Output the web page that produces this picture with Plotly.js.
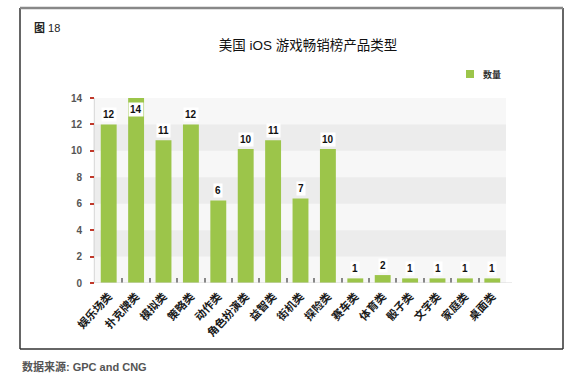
<!DOCTYPE html>
<html>
<head>
<meta charset="utf-8">
<script src="https://cdn.plot.ly/plotly-3.0.1.min.js"></script>
<style>html,body{margin:0;padding:0;background:#fff;}#chart{width:577px;height:380px;}</style>
</head>
<body>
<div id="chart"></div>
<script>
// ---- data ----
const categories = ["娱乐场类","扑克牌类","模拟类","策略类","动作类","角色扮演类","益智类","街机类","探险类","赛车类","体育类","骰子类","文字类","家庭类","桌面类"];
const barHeights = [12, 14, 10.8, 12, 6.25, 10.15, 10.8, 6.4, 10.15, 0.35, 0.6, 0.35, 0.35, 0.35, 0.35];
const valueLabels = ["12","14","11","12","6","10","11","7","10","1","2","1","1","1","1"];
const seriesName = "数量";
const yTicks = [0, 2, 4, 6, 8, 10, 12, 14];

// ---- layout geometry ----
const W = 577, H = 380;
const M = {l: 95, r: 71, t: 98, b: 97};
const PW = W - M.l - M.r, PH = H - M.t - M.b;
const px = x => (x - M.l) / PW;
const py = y => (H - M.b - y) / PH;

const cjk = "'Liberation Sans', Arial, 'Noto Sans CJK SC', sans-serif";
const barColor = '#9cc54a';

const shapes = [];
// alternating bands
shapes.push({type:'rect', xref:'paper', yref:'y', x0:px(93), x1:1, y0:0, y1:14, fillcolor:'#f7f7f7', line:{width:0}, layer:'below'});
[[2,4],[6,8],[10,12]].forEach(b => shapes.push({type:'rect', xref:'paper', yref:'y', x0:px(93), x1:1, y0:b[0], y1:b[1], fillcolor:'#ececec', line:{width:0}, layer:'below'}));
// frame
shapes.push({type:'line', xref:'paper', yref:'paper', x0:px(20), x1:px(20), y0:py(8), y1:py(349), line:{color:'#333', width:1.5}});
shapes.push({type:'line', xref:'paper', yref:'paper', x0:px(563), x1:px(563), y0:py(8), y1:py(349), line:{color:'#333', width:1.5}});
shapes.push({type:'line', xref:'paper', yref:'paper', x0:px(20), x1:px(563), y0:py(349), y1:py(349), line:{color:'#333', width:1.5}});
shapes.push({type:'line', xref:'paper', yref:'paper', x0:px(20), x1:px(563), y0:py(8), y1:py(8), line:{color:'#888', width:2.5}});
// x axis base line extension
shapes.push({type:'line', xref:'paper', yref:'y', x0:0, x1:px(512), y0:0, y1:0, line:{color:'#d8d8d8', width:1}});
// legend swatch
shapes.push({type:'rect', xref:'paper', yref:'paper', x0:px(466), x1:px(474), y0:py(78), y1:py(70), fillcolor:barColor, line:{width:0}});

const annotations = categories.map((c, i) => ({
  x: c, y: Math.min(barHeights[i], 12.4), xref:'x', yref:'y',
  text: valueLabels[i], showarrow:false, yanchor:'bottom', yshift:2,
  bgcolor:'#ffffff', borderpad:1,
  font:{family:cjk, size:10, color:'#111', weight:'bold'}
}));
annotations.push({xref:'paper', yref:'paper', x:px(481), y:py(74), xanchor:'left', yanchor:'middle', showarrow:false,
  text:seriesName, font:{family:cjk, size:9, color:'#333', weight:'bold'}});
annotations.push({xref:'paper', yref:'paper', x:px(32), y:py(28), xanchor:'left', yanchor:'middle', showarrow:false,
  text:'<b>图</b> 18', font:{family:cjk, size:11, color:'#222'}});
annotations.push({xref:'paper', yref:'paper', x:px(20), y:py(366), xanchor:'left', yanchor:'middle', showarrow:false,
  text:'数据来源: GPC and CNG', font:{family:cjk, size:11, color:'#555', weight:'bold'}});

const trace = {
  type:'bar', x:categories, y:barHeights, name:seriesName,
  marker:{color:barColor, line:{width:0}},
  hoverinfo:'x+y'
};

const layout = {
  width:W, height:H, margin:M,
  paper_bgcolor:'#ffffff', plot_bgcolor:'rgba(0,0,0,0)',
  title:{text:'美国 iOS 游戏畅销榜产品类型', x:308/W, xanchor:'center', y:1-45/H, yanchor:'middle',
    font:{family:cjk, size:13.5, color:'#111'}},
  showlegend:false,
  bargap:0.42,
  xaxis:{type:'category', tickangle:-47, ticks:'inside', tickson:'boundaries', ticklen:5, tickwidth:2, tickcolor:'#888',
    showline:false, showgrid:false, zeroline:false, ticklabelstandoff:4,
    tickfont:{family:cjk, size:11, color:'#1a1a1a', weight:'bold'}},
  yaxis:{range:[0,14], tickvals:yTicks, ticks:'outside', ticklen:4, tickwidth:1.5, tickcolor:'#c0392b',
    showline:true, linecolor:'#dddddd', linewidth:1, showgrid:false, zeroline:false, ticklabelstandoff:6,
    tickfont:{family:cjk, size:10, color:'#555', weight:'bold'}},
  shapes:shapes, annotations:annotations
};

Plotly.newPlot('chart', [trace], layout, {displayModeBar:false, responsive:false});
</script>
</body>
</html>
